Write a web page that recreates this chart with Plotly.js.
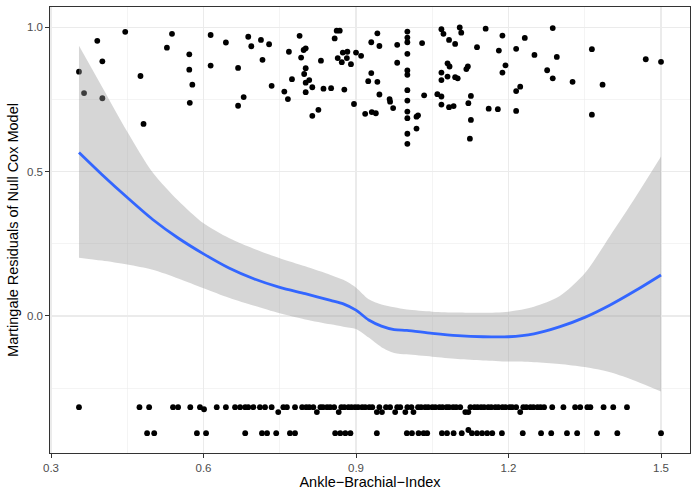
<!DOCTYPE html>
<html>
<head>
<meta charset="utf-8">
<script src="https://cdn.plot.ly/plotly-3.0.1.min.js"></script>
<style>
  body { margin: 0; background: #ffffff; }
  #residPlot { width: 698px; height: 498px; }
</style>
</head>
<body>
<div id="residPlot"></div>
<script>
// residuals of subjects with an event (upper cloud)
var topX = [0.391,0.446,0.538,0.528,0.572,0.401,0.355,0.476,0.572,0.578,0.365,0.401,0.573,0.482,0.614,0.644,0.688,0.694,0.614,0.668,0.679,0.668,
  0.713,0.729,0.716,0.734,0.759,0.766,0.768,0.789,0.797,0.801,0.792,0.801,0.798,0.808,0.801,0.814,0.801,0.774,0.831,0.836,0.851,0.877,0.826,0.814,
  0.862,0.868,0.858,0.874,0.883,0.864,0.872,0.882,0.890,0.900,0.910,0.896,0.930,0.942,0.946,0.930,0.924,0.942,0.946,0.918,0.931,0.939,0.966,0.967,
  0.973,0.981,0.981,1.001,1.001,1.001,1.001,1.001,1.001,1.001,1.001,1.001,1.001,
  1.019,1.022,1.019,1.001,1.001,1.030,1.034,1.068,1.072,1.083,1.068,1.080,1.068,1.060,1.068,1.068,1.083,
  1.104,1.107,1.095,1.080,1.084,1.095,1.100,1.092,1.117,1.120,1.126,1.121,1.126,1.124,1.138,1.155,1.181,1.188,1.194,1.188,1.161,1.179,
  1.215,1.232,1.251,1.215,1.223,1.215,1.287,1.295,1.276,1.287,1.326,1.364,1.385,1.364,1.470,1.500];
var topY = [0.953,0.984,0.977,0.929,0.906,0.882,0.846,0.831,0.853,0.801,0.772,0.754,0.738,0.665,0.973,0.947,0.967,0.934,0.867,0.859,0.758,0.728,
  0.956,0.941,0.887,0.797,0.777,0.751,0.915,0.970,0.921,0.927,0.895,0.858,0.838,0.817,0.808,0.792,0.775,0.820,0.884,0.787,0.789,0.784,0.714,0.693,
  0.988,0.988,0.961,0.912,0.915,0.893,0.879,0.893,0.872,0.912,0.901,0.734,0.948,0.979,0.935,0.841,0.813,0.811,0.767,0.700,0.706,0.702,0.751,0.742,
  0.720,0.939,0.877,0.985,0.964,0.948,0.908,0.850,0.835,0.782,0.746,0.708,0.685,
  0.690,0.695,0.649,0.631,0.596,0.945,0.764,0.993,0.977,0.956,0.843,0.829,0.817,0.768,0.760,0.732,0.723,
  0.999,0.981,0.942,0.875,0.864,0.827,0.823,0.727,0.855,0.864,0.762,0.737,0.679,0.614,0.931,0.995,0.919,0.971,0.868,0.843,0.718,0.716,
  0.925,0.963,0.904,0.779,0.794,0.710,0.997,0.897,0.851,0.823,0.811,0.924,0.801,0.697,0.889,0.880];

// censored subjects (two bands at the bottom)
var lowX = [0.355,0.474,0.493,0.540,0.550,0.574,0.593,0.601,0.626,0.644,0.662,0.672,0.682,0.688,0.698,0.711,0.721,0.734,0.747,0.757,
  0.764,0.780,0.794,0.802,0.808,0.816,0.823,0.830,0.835,0.843,0.849,0.857,0.866,0.871,0.877,0.885,0.891,0.898,0.904,0.912,
  0.918,0.926,0.932,0.941,0.946,0.951,0.959,0.967,0.977,0.981,0.987,0.997,1.001,1.009,1.013,1.022,1.028,1.036,1.042,1.050,
  1.056,1.064,1.070,1.078,1.083,1.091,1.097,1.105,1.115,1.121,1.125,1.133,1.139,1.146,1.152,1.160,1.166,1.174,1.180,1.188,
  1.194,1.202,1.207,1.215,1.223,1.229,1.235,1.243,1.249,1.257,1.263,1.270,1.286,1.308,1.331,1.341,1.355,1.361,1.387,1.406,1.433,
  0.489,0.503,0.587,0.605,0.682,0.715,0.725,0.743,0.770,0.780,0.859,0.869,0.879,0.889,0.941,1.000,1.010,1.023,1.033,1.040,
  1.069,1.079,1.092,1.108,1.121,1.128,1.138,1.148,1.158,1.168,1.187,1.228,1.264,1.284,1.315,1.335,1.374,1.414,1.500];
var lowY = [-0.316,-0.316,-0.316,-0.316,-0.316,-0.316,-0.316,-0.323,-0.316,-0.316,-0.316,-0.316,-0.316,-0.316,-0.316,-0.316,-0.316,-0.316,-0.333,-0.316,
  -0.316,-0.316,-0.316,-0.316,-0.316,-0.316,-0.333,-0.316,-0.316,-0.316,-0.316,-0.316,-0.333,-0.316,-0.316,-0.316,-0.316,-0.316,-0.316,-0.316,
  -0.316,-0.316,-0.316,-0.333,-0.316,-0.333,-0.316,-0.316,-0.333,-0.316,-0.316,-0.333,-0.316,-0.316,-0.333,-0.316,-0.316,-0.316,-0.316,-0.316,
  -0.316,-0.316,-0.316,-0.316,-0.316,-0.316,-0.316,-0.316,-0.333,-0.333,-0.316,-0.316,-0.316,-0.316,-0.316,-0.316,-0.316,-0.316,-0.316,-0.316,
  -0.316,-0.316,-0.316,-0.316,-0.333,-0.316,-0.316,-0.316,-0.316,-0.316,-0.316,-0.316,-0.316,-0.316,-0.316,-0.316,-0.316,-0.316,-0.316,-0.316,-0.316,
  -0.406,-0.406,-0.406,-0.406,-0.406,-0.406,-0.406,-0.406,-0.406,-0.406,-0.406,-0.406,-0.406,-0.406,-0.406,-0.406,-0.406,-0.406,-0.406,-0.406,
  -0.406,-0.406,-0.406,-0.406,-0.395,-0.406,-0.406,-0.406,-0.406,-0.406,-0.406,-0.406,-0.406,-0.406,-0.406,-0.406,-0.406,-0.406,-0.406];

// loess fit and its confidence band
var smoothX = [0.355,0.40,0.45,0.50,0.55,0.60,0.65,0.70,0.75,0.80,0.85,0.875,0.90,0.925,0.95,0.975,1.00,1.05,1.10,1.15,1.20,1.25,1.30,1.35,1.40,1.45,1.50];
var smoothY = [0.566,0.490,0.410,0.334,0.270,0.215,0.166,0.128,0.099,0.077,0.054,0.042,0.020,-0.014,-0.035,-0.047,-0.050,-0.060,-0.068,-0.072,-0.072,-0.062,-0.038,-0.005,0.038,0.088,0.142];
var upperY  = [0.936,0.795,0.638,0.497,0.400,0.321,0.270,0.232,0.200,0.172,0.142,0.125,0.098,0.058,0.040,0.030,0.022,0.015,0.012,0.011,0.015,0.032,0.068,0.148,0.278,0.412,0.552];
var lowerY  = [0.202,0.192,0.178,0.160,0.130,0.096,0.063,0.035,0.009,-0.012,-0.029,-0.037,-0.045,-0.075,-0.108,-0.128,-0.133,-0.141,-0.149,-0.154,-0.158,-0.160,-0.166,-0.177,-0.195,-0.225,-0.262];

var xTicks = [0.3, 0.6, 0.9, 1.2, 1.5];
var yTicks = [0.0, 0.5, 1.0];

var pointColor = '#000000';
var lineColor = '#3366FF';
var bandColor = 'rgba(153,153,153,0.4)';

var tracePoints = {
  x: topX.concat(lowX),
  y: topY.concat(lowY),
  mode: 'markers',
  type: 'scatter',
  marker: { color: pointColor, size: 5.8 },
  hoverinfo: 'x+y'
};

var traceLower = {
  x: smoothX,
  y: lowerY,
  type: 'scatter',
  mode: 'lines',
  line: { width: 0, shape: 'spline', smoothing: 0.8 },
  hoverinfo: 'skip'
};

var traceUpper = {
  x: smoothX,
  y: upperY,
  type: 'scatter',
  mode: 'lines',
  fill: 'tonexty',
  fillcolor: bandColor,
  line: { width: 0, shape: 'spline', smoothing: 0.8 },
  hoverinfo: 'skip'
};

var traceLine = {
  x: smoothX,
  y: smoothY,
  type: 'scatter',
  mode: 'lines',
  line: { color: lineColor, width: 2.8, shape: 'spline', smoothing: 0.8 }
};

var axisFont = { family: 'Liberation Sans, Arial, sans-serif', size: 11.5, color: '#4D4D4D' };
var titleFont = { family: 'Liberation Sans, Arial, sans-serif', size: 14.5, color: '#000000' };

var layout = {
  width: 698,
  height: 498,
  margin: { l: 50, r: 8, t: 7, b: 45 },
  paper_bgcolor: '#ffffff',
  plot_bgcolor: '#ffffff',
  showlegend: false,
  xaxis: {
    range: [0.298, 1.557],
    tickvals: xTicks,
    ticktext: xTicks.map(function (v) { return v.toFixed(1); }),
    tickfont: axisFont,
    ticks: 'outside',
    ticklen: 3.7,
    tickwidth: 1,
    tickcolor: '#333333',
    showgrid: true,
    gridcolor: '#EBEBEB',
    gridwidth: 1.1,
    minor: { dtick: 0.15, tick0: 0.3, showgrid: true, gridcolor: '#EBEBEB', gridwidth: 0.55 },
    zeroline: false,
    showline: true,
    mirror: true,
    linecolor: '#333333',
    linewidth: 1,
    title: { text: 'Ankle\u2212Brachial\u2212Index', font: titleFont, standoff: 4 }
  },
  yaxis: {
    range: [-0.4746, 1.070],
    tickvals: yTicks,
    ticktext: yTicks.map(function (v) { return v.toFixed(1); }),
    tickfont: axisFont,
    ticks: 'outside',
    ticklen: 3.7,
    tickwidth: 1,
    tickcolor: '#333333',
    showgrid: true,
    gridcolor: '#EBEBEB',
    gridwidth: 1.1,
    minor: { dtick: 0.25, tick0: 0, showgrid: true, gridcolor: '#EBEBEB', gridwidth: 0.55 },
    zeroline: false,
    showline: true,
    mirror: true,
    linecolor: '#333333',
    linewidth: 1,
    title: { text: 'Martingale Residuals of Null Cox Model', font: titleFont, standoff: 4 }
  }
};

Plotly.newPlot('residPlot', [tracePoints, traceLower, traceUpper, traceLine], layout, { displayModeBar: false, staticPlot: true });
</script>
</body>
</html>
